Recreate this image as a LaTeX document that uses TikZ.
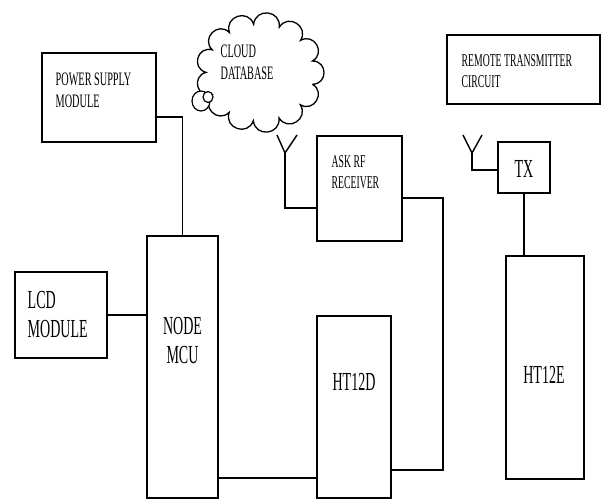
\documentclass[tikz,border=0pt]{standalone}
\usepackage{fontspec}
\setmainfont{Liberation Serif}
\newfontfamily\cond[FakeStretch=0.54]{Liberation Serif}
\usetikzlibrary{shapes.geometric}
\begin{document}
\begin{tikzpicture}[x=1pt,y=-1pt,line width=1.4pt,
  blk/.style={draw,rectangle,inner sep=0,line width=1.6pt},
  lbls/.style={inner sep=0,anchor=west,align=left,font=\cond\fontsize{19}{22}\selectfont},
  lbll/.style={inner sep=0,align=center,font=\cond\fontsize{26}{29}\selectfont},
  wire/.style={draw,line width=1.4pt}]
\useasboundingbox (0,0) rectangle (601,500);
% blocks
\node[blk,minimum width=114,minimum height=89] (ps) at (99,97.5) {};
\node[blk,minimum width=92,minimum height=86] (lcd) at (61,315) {};
\node[blk,minimum width=71,minimum height=262] (mcu) at (182.5,367) {};
\node[blk,minimum width=74,minimum height=182] (ht12d) at (354,407) {};
\node[blk,minimum width=85,minimum height=105] (ask) at (359.5,188.5) {};
\node[blk,minimum width=153,minimum height=69] (rtc) at (523.5,69.5) {};
\node[blk,minimum width=52,minimum height=51] (tx) at (524,167.5) {};
\node[blk,minimum width=78,minimum height=223] (ht12e) at (545,367.5) {};
% cloud
\node[inner sep=0,minimum size=96] (cloud) at (260,72.5) {};
\draw[line width=1.3pt] ([shift={(cloud.center)}]14:54 and 48.5)
  \foreach \i in {1,...,13} { to[bend left=90,looseness=1.7] ([shift={(cloud.center)}]{14+\i*360/13}:54 and 48.5) };
\node[draw,ellipse,fill=white,minimum width=18,minimum height=20,inner sep=0,line width=1.2pt] (bub) at (201,101) {};
\node[draw,ellipse,fill=white,minimum width=10,minimum height=11,inner sep=0,line width=1.2pt] (bubin) at (208,97) {};
% labels
\node[lbls] (tps) at (55,90) {POWER SUPPLY\\MODULE};
\node[lbll,anchor=west,align=left] (tlcd) at (27,315) {LCD\\MODULE};
\node[lbll] (tmcu) at (182.5,341) {NODE\\MCU};
\node[lbll] (tht12d) at (354,382) {HT12D};
\node[lbls,font=\cond\fontsize{18}{21}\selectfont] (task) at (331,172.5) {ASK RF\\RECEIVER};
\node[lbls,font=\cond\fontsize{18}{21}\selectfont] (trtc) at (461,71.5) {REMOTE TRANSMITTER\\CIRCUIT};
\node[lbll] (ttx) at (524,169) {TX};
\node[lbll] (tht12e) at (544,375) {HT12E};
\node[lbls] (tcloud) at (220,62.5) {CLOUD\\DATABASE};
% antenna points
\coordinate (a1) at (285,208);
\coordinate (a1t) at (285,153);
\coordinate (a1l) at (277,135);
\coordinate (a1r) at (297,135);
\coordinate (a2) at (472,170);
\coordinate (a2t) at (472,153);
\coordinate (a2l) at (463,135);
\coordinate (a2r) at (482,135);
\coordinate (j1) at (0,478);
\coordinate (j2) at (0,470);
\coordinate (r1) at (443,198);
% connectors
\draw[wire] ([yshift=26pt]ps.south east) -| (mcu.north);
\draw[wire] (lcd.east) -- (lcd.east -| mcu.west);
\draw[wire] (mcu.east |- j1) -- (ht12d.west |- j1);
\draw[wire] (ht12d.east |- j2) -| (r1) -- (ask.east |- r1);
\draw[wire] (ask.west |- a1) -- (a1) -- (a1t);
\draw[wire] (a1l) -- (a1t) -- (a1r);
\draw[wire] (tx.west |- a2) -- (a2) -- (a2t);
\draw[wire] (a2l) -- (a2t) -- (a2r);
\draw[wire] (tx.south) -- (tx.south |- ht12e.north);
\end{tikzpicture}
\end{document}
